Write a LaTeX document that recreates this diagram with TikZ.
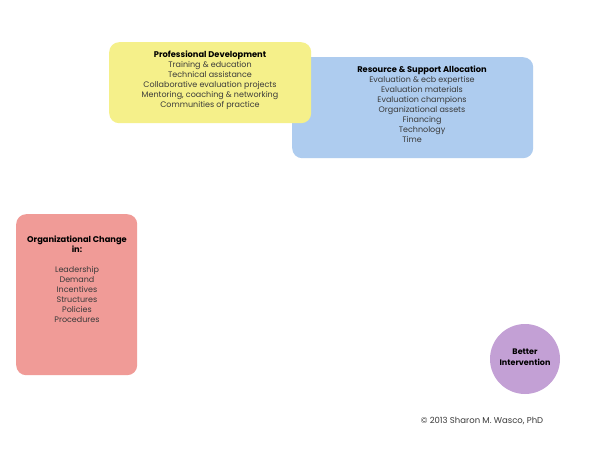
\documentclass[tikz,border=0pt]{standalone}
\usepackage{fontspec}
\setmainfont{Poppins}
\definecolor{pdyellow}{HTML}{F5F08A}
\definecolor{rsblue}{HTML}{AECCEF}
\definecolor{ocred}{HTML}{F09B97}
\definecolor{bipurple}{HTML}{C3A0D5}
\definecolor{bodytext}{HTML}{3A3A3A}
\newcommand{\boxtitle}[1]{{\bfseries\color{black}\fontsize{8.3}{10}\selectfont #1}}
\begin{document}
\begin{tikzpicture}[x=1pt,y=-1pt,
  box/.style={rounded corners=10pt, inner sep=0pt, anchor=north west},
  boxtext/.style={align=center, font=\fontsize{8}{10}\selectfont, text=bodytext, inner sep=0pt, anchor=north}]
\useasboundingbox[fill=white] (0,0) rectangle (594,454);
% blue box behind yellow
\node[box, fill=rsblue, minimum width=241pt, minimum height=101pt] (rs) at (292,57) {};
\node[box, fill=pdyellow, minimum width=202pt, minimum height=81pt] (pd) at (109,42) {};
\node[box, fill=ocred, minimum width=121pt, minimum height=161pt] (oc) at (16,214) {};
\node[circle, fill=bipurple, minimum size=70pt, inner sep=0pt] (bi) at (525,359) {};
\node[boxtext] (pdt) at (210,50.5) {\boxtitle{Professional Development}\\Training \& education\\Technical assistance\\Collaborative evaluation projects\\Mentoring, coaching \& networking\\Communities of practice};
\node[boxtext] (rst) at (422,66) {\boxtitle{Resource \& Support Allocation}\\Evaluation \& ecb expertise\\Evaluation materials\\Evaluation champions\\Organizational assets\\Financing\\Technology\\Time\hspace*{20pt}};
\node[boxtext] (oct) at (77,235.5) {\boxtitle{Organizational Change}\\\boxtitle{in:}\\[10pt]Leadership\\Demand\\Incentives\\Structures\\Policies\\Procedures};
\node[align=center, inner sep=0pt, font=\bfseries\fontsize{8}{11}\selectfont] (bit) at ([yshift=2pt]bi.center) {Better\\Intervention};
\node[inner sep=0pt, font=\fontsize{8.5}{10}\selectfont, text=bodytext] (copy) at (482,421) {© 2013 Sharon M. Wasco, PhD};
\end{tikzpicture}
\end{document}
